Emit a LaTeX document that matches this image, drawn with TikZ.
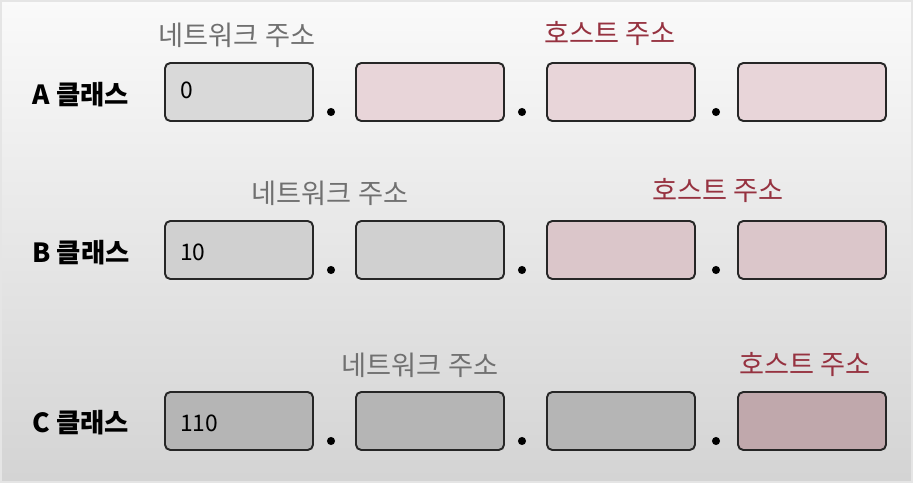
\documentclass[tikz,border=0pt]{standalone}
\usepackage{fontspec}
\setmainfont{Noto Sans CJK KR}
\definecolor{netgray}{RGB}{112,112,112}
\definecolor{hostred}{RGB}{150,50,64}
\definecolor{grayA}{RGB}{217,217,217}
\definecolor{pinkA}{RGB}{232,213,217}
\definecolor{grayB}{RGB}{208,208,208}
\definecolor{pinkB}{RGB}{219,198,202}
\definecolor{grayC}{RGB}{181,181,181}
\definecolor{pinkC}{RGB}{192,168,172}
\tikzset{
 addrbox/.style={draw=black!85,line width=1.1pt,rounded corners=3pt,
  minimum width=2.96cm,minimum height=1.16cm,inner sep=0pt},
 classlbl/.style={font=\fontsize{15}{17}\selectfont\bfseries},
 netlbl/.style={text=netgray,font=\fontsize{15.5}{17}\selectfont},
 hostlbl/.style={text=hostred,font=\fontsize{15.5}{17}\selectfont},
 bitlbl/.style={anchor=west,font=\fontsize{13}{15}\selectfont},
 sepdot/.style={circle,fill=black,inner sep=0pt,minimum size=4.6pt}
}

\begin{document}
\begin{tikzpicture}[x=.02cm,y=-.02cm]
 \useasboundingbox (0,0) rectangle (913,483);
 \shade[top color=black!2,bottom color=black!17] (0,0) rectangle (913,483);
 \draw[black!10,line width=2pt] (0,0) rectangle (913,483);

 % A class: first octet is the network part.
 \node[classlbl] (clsA) at (81,95) {A 클래스};
 \node[netlbl] (netA) at (237,35) {네트워크 주소};
 \node[hostlbl] (hostA) at (610,33) {호스트 주소};
 \node[addrbox,fill=grayA] (a1) at (239,92) {};
 \node[addrbox,fill=pinkA] (a2) at (430,92) {};
 \node[addrbox,fill=pinkA] (a3) at (621,92) {};
 \node[addrbox,fill=pinkA] (a4) at (812,92) {};
 \node[bitlbl] (bitA) at (174,90) {0};
 \node[sepdot] (da1) at (331,112) {};
 \node[sepdot] (da2) at (522,112) {};
 \node[sepdot] (da3) at (716,112) {};

 % B class: two octets for the network.
 \node[classlbl] (clsB) at (81,253) {B 클래스};
 \node[netlbl] (netB) at (330,193) {네트워크 주소};
 \node[hostlbl] (hostB) at (718,190) {호스트 주소};
 \node[addrbox,fill=grayB] (b1) at (239,250) {};
 \node[addrbox,fill=grayB] (b2) at (430,250) {};
 \node[addrbox,fill=pinkB] (b3) at (621,250) {};
 \node[addrbox,fill=pinkB] (b4) at (812,250) {};
 \node[bitlbl] (bitB) at (174,252) {10};
 \node[sepdot] (db1) at (331,270) {};
 \node[sepdot] (db2) at (522,270) {};
 \node[sepdot] (db3) at (716,270) {};

 % C class: only the last octet is left for hosts.
 \node[classlbl] (clsC) at (81,423) {C 클래스};
 \node[netlbl] (netC) at (420,365) {네트워크 주소};
 \node[hostlbl] (hostC) at (805,364) {호스트 주소};
 \node[addrbox,fill=grayC] (c1) at (239,421) {};
 \node[addrbox,fill=grayC] (c2) at (430,421) {};
 \node[addrbox,fill=grayC] (c3) at (621,421) {};
 \node[addrbox,fill=pinkC] (c4) at (812,421) {};
 \node[bitlbl] (bitC) at (174,423) {110};
 \node[sepdot] (dc1) at (331,441) {};
 \node[sepdot] (dc2) at (522,441) {};
 \node[sepdot] (dc3) at (716,441) {};
\end{tikzpicture}
\end{document}
